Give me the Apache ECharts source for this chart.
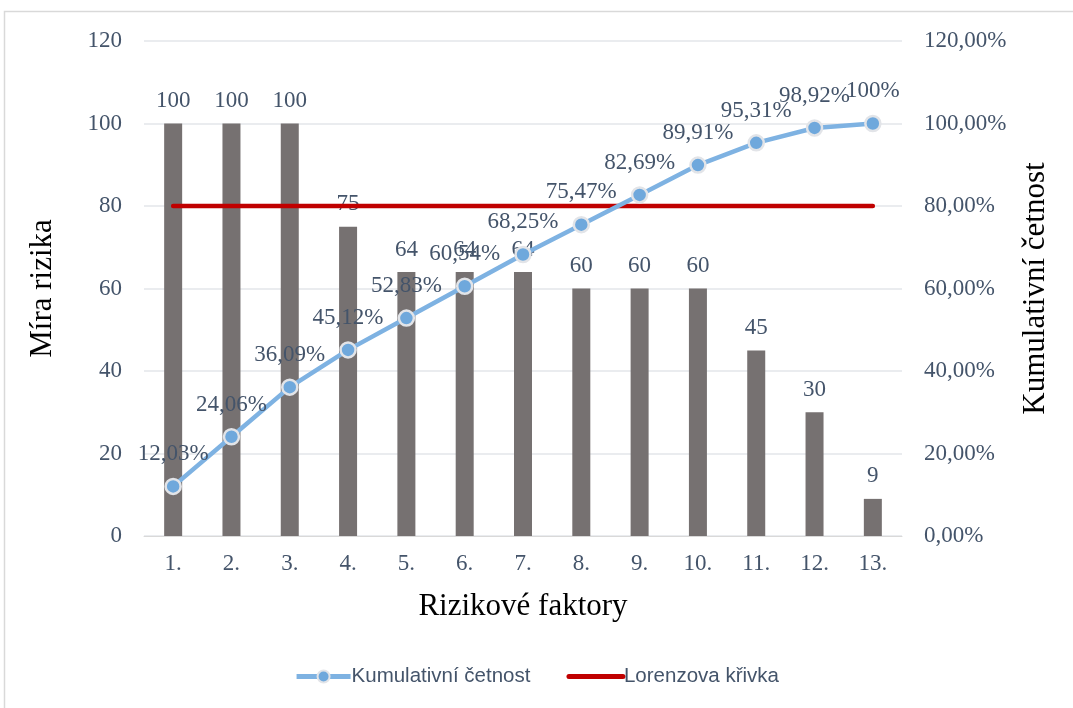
<!DOCTYPE html>
<html><head><meta charset="utf-8">
<script src="https://cdn.jsdelivr.net/npm/echarts@6/dist/echarts.min.js"></script>
<style>html,body{margin:0;padding:0;background:#fff}#c{width:1073px;height:708px}</style>
</head><body><div id="c"></div>
<script>
const categories = ['1.','2.','3.','4.','5.','6.','7.','8.','9.','10.','11.','12.','13.'];
const riskValues = [100,100,100,75,64,64,64,60,60,60,45,30,9];
const cumulative = [12.03,24.06,36.09,45.12,52.83,60.54,68.25,75.47,82.69,89.91,95.31,98.92,100];
const lorenz = [80,80,80,80,80,80,80,80,80,80,80,80,80];
const fmtPct = v => v.toFixed(2).replace('.', ',') + '%';
const serif = 'Liberation Serif';
const tickColor = '#44546A';
const chart = echarts.init(document.getElementById('c'));
chart.setOption({
  animation:false,
  backgroundColor:'#fff',
  graphic:[{type:'rect',shape:{x:4.5,y:11.5,width:1100,height:720},style:{fill:'none',stroke:'#D9D9D9',lineWidth:1.5},silent:true}],
  grid:{left:144,right:171,top:41,bottom:172},
  legend:{bottom:16,left:'center',itemWidth:54,itemHeight:15,itemGap:36,
    textStyle:{fontFamily:'Liberation Sans',fontSize:20.5,color:tickColor,padding:[0,0,0,-4]},
    data:[{name:'Kumulativní četnost',lineStyle:{width:5}},
          {name:'Lorenzova křivka',lineStyle:{width:5},itemStyle:{color:'rgba(0,0,0,0)',borderWidth:0,opacity:0}}]},
  xAxis:{type:'category',data:categories,name:'Rizikové faktory',nameLocation:'middle',nameGap:55,
    nameTextStyle:{fontFamily:serif,fontSize:31,color:'#000'},
    axisLine:{lineStyle:{color:'#D9D9D9',width:1}},axisTick:{show:false},
    axisLabel:{fontFamily:serif,fontSize:23,color:tickColor,margin:16}},
  yAxis:[{type:'value',min:0,max:120,interval:20,name:'Míra rizika',nameLocation:'middle',nameGap:86,
      nameTextStyle:{fontFamily:serif,fontSize:31,color:'#000'},
      axisLabel:{fontFamily:serif,fontSize:23,color:tickColor,margin:22},
      splitLine:{lineStyle:{color:'#E3E6EA',width:1.5}},axisLine:{show:false},axisTick:{show:false}},
    {type:'value',min:0,max:120,interval:20,name:'Kumulativní četnost',nameLocation:'middle',nameGap:118,nameRotate:90,
      nameTextStyle:{fontFamily:serif,fontSize:31,color:'#000'},
      axisLabel:{fontFamily:serif,fontSize:23,color:tickColor,margin:22,formatter:v=>fmtPct(v)},
      splitLine:{show:false},axisLine:{show:false},axisTick:{show:false}}],
  series:[
    {name:'Míra rizika',type:'bar',data:riskValues,barWidth:18,yAxisIndex:0,z:1,
      itemStyle:{color:'#767171'},
      label:{show:true,position:'top',distance:11,fontFamily:serif,fontSize:23,color:tickColor}},
    {name:'Lorenzova křivka',type:'line',data:lorenz,yAxisIndex:0,symbol:'none',z:3,
      lineStyle:{color:'#C00000',width:4.5,cap:'round'},itemStyle:{color:'#C00000'}},
    {name:'Kumulativní četnost',type:'line',data:cumulative,yAxisIndex:1,symbol:'circle',symbolSize:15,z:4,
      lineStyle:{color:'#7EB2E2',width:4.5},
      itemStyle:{color:'#6FA8DC',borderColor:'#E2E4E8',borderWidth:2.5},
      label:{show:true,position:'top',distance:12,fontFamily:serif,fontSize:23,color:tickColor,
        formatter:p=>p.value===100?'100%':fmtPct(p.value)}}
  ]
});
</script></body></html>
